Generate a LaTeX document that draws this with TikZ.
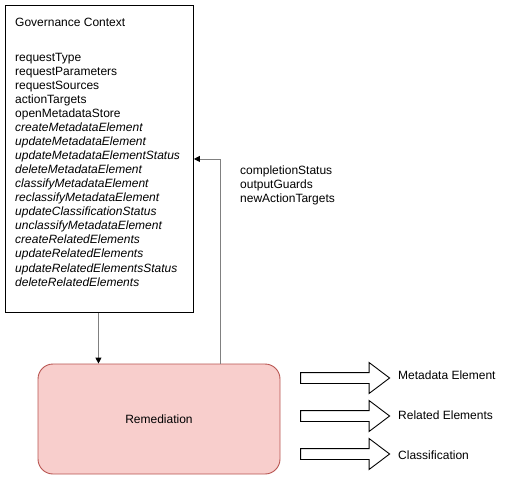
\documentclass[tikz,border=0pt]{standalone}
\usepackage{fontspec}
\setmainfont{Liberation Sans}
\usetikzlibrary{arrows.meta,positioning,shapes.arrows}
\definecolor{remfill}{HTML}{F8CECC}
\definecolor{remdraw}{HTML}{B85450}

\begin{document}
\begin{tikzpicture}[x=1pt,y=-1pt,
  link/.style={draw=black!50,line width=.9pt,-{Triangle[length=6pt,width=6pt,color=black]}},
  context/.style={draw=black,line width=.9pt,minimum width=188pt,minimum height=307pt,
    anchor=north west,inner sep=0pt},
  listing/.style={align=left,font=\fontsize{12}{14.06}\selectfont,inner sep=0pt,anchor=north west},
  task/.style={draw=remdraw,fill=remfill,line width=.9pt,rounded corners=15pt,
    minimum width=242pt,minimum height=110pt,font=\fontsize{12}{14}\selectfont},
  outlet/.style={single arrow,draw=black,line width=.9pt,fill=white,minimum height=89pt,
    inner xsep=0pt,inner ysep=5pt,single arrow head extend=10pt,single arrow tip angle=74},
  tag/.style={anchor=west,inner sep=0pt,font=\fontsize{12}{14}\selectfont}]

\useasboundingbox (0,0) rectangle (509,480);

\node[context] (context) at (5,5) {};
\node[listing] (contextText) at (15,17.5)
  {Governance Context\\[21pt]
   requestType\\
   requestParameters\\
   requestSources\\
   actionTargets\\
   openMetadataStore\\
   \textit{createMetadataElement}\\
   \textit{updateMetadataElement}\\
   \textit{updateMetadataElementStatus}\\
   \textit{deleteMetadataElement}\\
   \textit{classifyMetadataElement}\\
   \textit{reclassifyMetadataElement}\\
   \textit{updateClassificationStatus}\\
   \textit{unclassifyMetadataElement}\\
   \textit{createRelatedElements}\\
   \textit{updateRelatedElements}\\
   \textit{updateRelatedElementsStatus}\\
   \textit{deleteRelatedElements}};

\node[task] (remediation) at (159,419) {Remediation};

\node[listing] (results) at (240,165.5)
  {completionStatus\\
   outputGuards\\
   newActionTargets};

\node[outlet] (outMetadata) at (341.5,378) {};
\node[outlet] (outRelated) at (341.5,416) {};
\node[outlet] (outClass) at (341.5,454) {};

\node[tag] (tagMetadata) at (398,375) {Metadata Element};
\node[tag] (tagRelated) at (398,415) {Related Elements};
\node[tag] (tagClass) at (398,455) {Classification};

\draw[link] ([xshift=-1pt]context.south) -- ([xshift=-1pt]context.south |- remediation.north);
\draw[link] ([xshift=61pt]remediation.north) |- (context.east);
\end{tikzpicture}
\end{document}
